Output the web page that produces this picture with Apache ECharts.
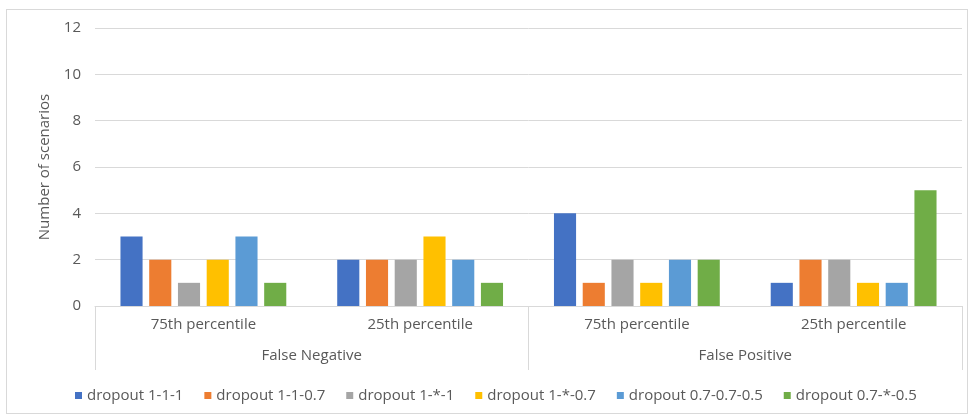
<!DOCTYPE html>
<html>
<head>
<meta charset="utf-8">
<script src="https://cdn.jsdelivr.net/npm/echarts@6/dist/echarts.min.js"></script>
<style>
  html, body { margin: 0; padding: 0; background: #fff; }
  #wrap { position: relative; width: 976px; height: 417px; }
  #frame { position: absolute; left: 6px; top: 9px; width: 962px; height: 405px; border: 1px solid #d9d9d9; box-sizing: border-box; }
  #chart { position: absolute; left: 0; top: 0; width: 976px; height: 417px; }
</style>
</head>
<body>
<div id="wrap">
  <div id="frame"></div>
  <div id="chart"></div>
</div>
<script>
// Inner and outer category levels
const percentiles = ['75th percentile', '25th percentile', '75th percentile', '25th percentile'];
const errorTypes = ['False Negative', 'False Positive'];

// Number of scenarios per dropout configuration
const dropout_1_1_1 = [3, 2, 4, 1];
const dropout_1_1_07 = [2, 2, 1, 2];
const dropout_1_s_1 = [1, 2, 2, 2];
const dropout_1_s_07 = [2, 3, 1, 1];
const dropout_07_07_05 = [3, 2, 2, 1];
const dropout_07_s_05 = [1, 1, 2, 5];

const seriesNames = ['dropout 1-1-1', 'dropout 1-1-0.7', 'dropout 1-*-1', 'dropout 1-*-0.7', 'dropout 0.7-0.7-0.5', 'dropout 0.7-*-0.5'];
const seriesData = [dropout_1_1_1, dropout_1_1_07, dropout_1_s_1, dropout_1_s_07, dropout_07_07_05, dropout_07_s_05];
const colors = ['#4472C4', '#ED7D31', '#A5A5A5', '#FFC000', '#5B9BD5', '#70AD47'];

const yTicks = { min: 0, max: 12, interval: 2 };

const textColor = '#595959';
const lineColor = '#d9d9d9';
const font = '"Open Sans", "Noto Sans", sans-serif';
const fs = 15;

const chart = echarts.init(document.getElementById('chart'), null, { renderer: 'canvas' });

chart.setOption({
  animation: false,
  color: colors,
  textStyle: { fontFamily: font, color: textColor },
  grid: { left: 95, right: 14, top: 28, bottom: 111, containLabel: false },
  legend: {
    top: 383,
    left: 70,
    icon: 'rect',
    itemWidth: 7,
    itemHeight: 7,
    itemGap: 21,
    textStyle: { fontSize: fs, color: textColor, fontFamily: font },
    data: seriesNames
  },
  xAxis: [
    {
      type: 'category',
      data: percentiles,
      axisLine: { lineStyle: { color: lineColor, width: 1 } },
      axisTick: { show: false },
      axisLabel: { fontSize: fs, color: textColor, margin: 11 },
      splitLine: { show: false }
    },
    {
      type: 'category',
      data: errorTypes,
      position: 'bottom',
      axisLine: { show: false },
      axisTick: { show: true, length: 64, lineStyle: { color: lineColor, width: 1 } },
      axisLabel: { fontSize: fs, color: textColor, margin: 42 },
      splitLine: { show: false }
    }
  ],
  yAxis: {
    type: 'value',
    min: yTicks.min,
    max: yTicks.max,
    interval: yTicks.interval,
    name: 'Number of scenarios',
    nameLocation: 'middle',
    nameGap: 43,
    nameTextStyle: { fontSize: fs, color: textColor },
    axisLine: { show: false },
    axisTick: { show: false },
    axisLabel: { fontSize: fs, color: textColor, margin: 14 },
    splitLine: { lineStyle: { color: lineColor, width: 1 } }
  },
  series: seriesNames.map((name, i) => ({
    name,
    type: 'bar',
    xAxisIndex: 0,
    data: seriesData[i],
    barWidth: '10.2%',
    barGap: '30%',
    barCategoryGap: '24%',
    itemStyle: { color: colors[i] }
  }))
});
</script>
</body>
</html>
